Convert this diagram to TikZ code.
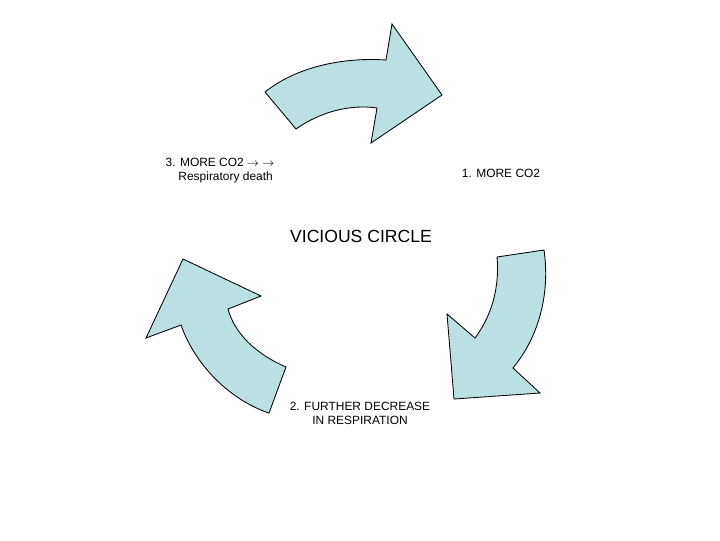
\documentclass[tikz,border=0pt]{standalone}
\usepackage{fontspec}
\setmainfont{Liberation Sans}
\usetikzlibrary{calc}
\definecolor{cyclefill}{RGB}{187,224,227}

\begin{document}
\begin{tikzpicture}[x=0.025cm,y=-0.025cm,
    cyclearrow/.style={fill=cyclefill,draw=black,line width=0.6pt,line join=miter},
    steptext/.style={font=\fontsize{8.5}{10}\selectfont,align=center,inner sep=0pt}]
  \useasboundingbox (0,0) rectangle (720,540);

  % top arrow (tail left, head pointing right)
  \draw[cyclearrow]
    (265,92) .. controls (295,68) and (340,57) .. (386,60)
    -- (392,24) -- (442,95) -- (371,143) -- (377,108)
    .. controls (350,104) and (320,112) .. (296,129) -- cycle;

  % right arrow (head pointing down-left)
  \draw[cyclearrow]
    (497,257) -- (544,250)
    .. controls (550,292) and (540,335) .. (513,368)
    -- (540,393) -- (454,399) -- (447,314) -- (475,338)
    .. controls (490,318) and (500,290) .. (497,257) -- cycle;

  % left arrow (head pointing up)
  \draw[cyclearrow]
    (286,367) -- (269,413)
    .. controls (230,400) and (195,365) .. (181,325)
    -- (146,338) -- (183,259) -- (261,296) -- (228,309)
    .. controls (235,335) and (258,355) .. (286,367) -- cycle;

  % labels
  \node[steptext] (step1) at (501,173) {1. MORE CO2};
  \node[steptext] (step2) at (360,413) {2. FURTHER DECREASE\\IN RESPIRATION};
  \node[steptext] (step3) at (220,171) {3. MORE CO2 $\rightarrow$ $\rightarrow$\\\hspace*{8pt}Respiratory death};
  \node[font=\fontsize{12.5}{14}\selectfont,inner sep=0pt] (title) at (361,236) {VICIOUS CIRCLE};
\end{tikzpicture}
\end{document}
